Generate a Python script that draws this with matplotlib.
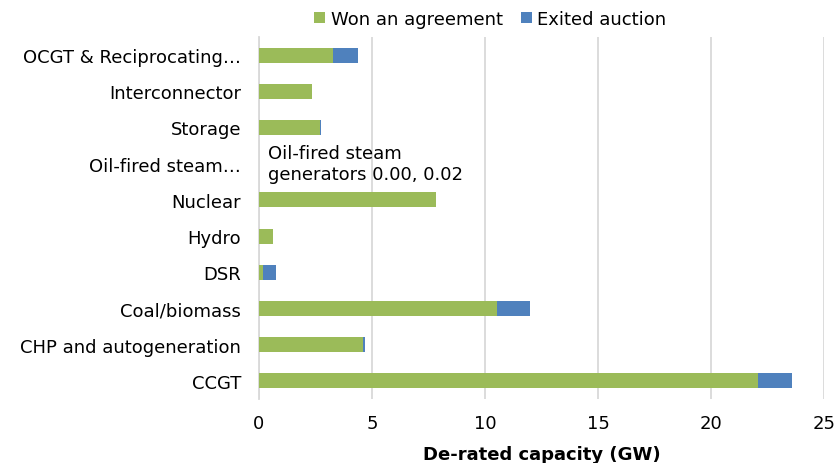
import matplotlib.pyplot as plt

plt.rcParams["font.family"] = ["DejaVu Sans"]

categories = ["OCGT & Reciprocating…", "Interconnector", "Storage", "Oil-fired steam…",
              "Nuclear", "Hydro", "DSR", "Coal/biomass", "CHP and autogeneration", "CCGT"]
won = [3.26, 2.33, 2.70, 0.00, 7.82, 0.63, 0.16, 10.52, 4.62, 22.09]
exited = [1.11, 0.00, 0.03, 0.02, 0.00, 0.00, 0.58, 1.47, 0.08, 1.50]

green = "#9BBB59"
blue = "#4F81BD"

fig = plt.figure(figsize=(8.38, 4.64), dpi=100)
ax = fig.add_axes([259 / 838, 64 / 464, 565 / 838, 362 / 464])

ypos = list(range(len(categories)))
ax.barh(ypos, won, height=0.41, color=green, label="Won an agreement", zorder=3)
ax.barh(ypos, exited, left=won, height=0.41, color=blue, label="Exited auction", zorder=3)

ax.set_ylim(len(categories) - 0.5, -0.5)
ax.set_yticks(ypos)
ax.set_yticklabels(categories, fontsize=13)
ax.set_xlim(0, 25)
ax.set_xticks([0, 5, 10, 15, 20, 25])
ax.tick_params(axis="x", labelsize=13, length=0, pad=11)
ax.tick_params(axis="y", length=0, pad=13)
ax.set_xlabel("De-rated capacity (GW)", fontsize=13, fontweight="bold", labelpad=9)

ax.grid(axis="x", color="#D9D9D9", linewidth=1.3, zorder=0)
for s in ["top", "right", "bottom"]:
    ax.spines[s].set_visible(False)
ax.spines["left"].set_color("#D9D9D9")
ax.spines["left"].set_linewidth(1.3)

# data label for the tiny oil-fired bar
ax.text(0.4, 3, "Oil-fired steam\ngenerators 0.00, 0.02", fontsize=13,
        va="center", ha="left", linespacing=1.25, zorder=4)

fig.legend(loc="upper center", bbox_to_anchor=(0.585, 1.012), ncol=2, frameon=False,
           fontsize=13, handlelength=0.6, handleheight=0.6, handletextpad=0.3,
           columnspacing=1.0)

fig.savefig("out.png", dpi=100)
